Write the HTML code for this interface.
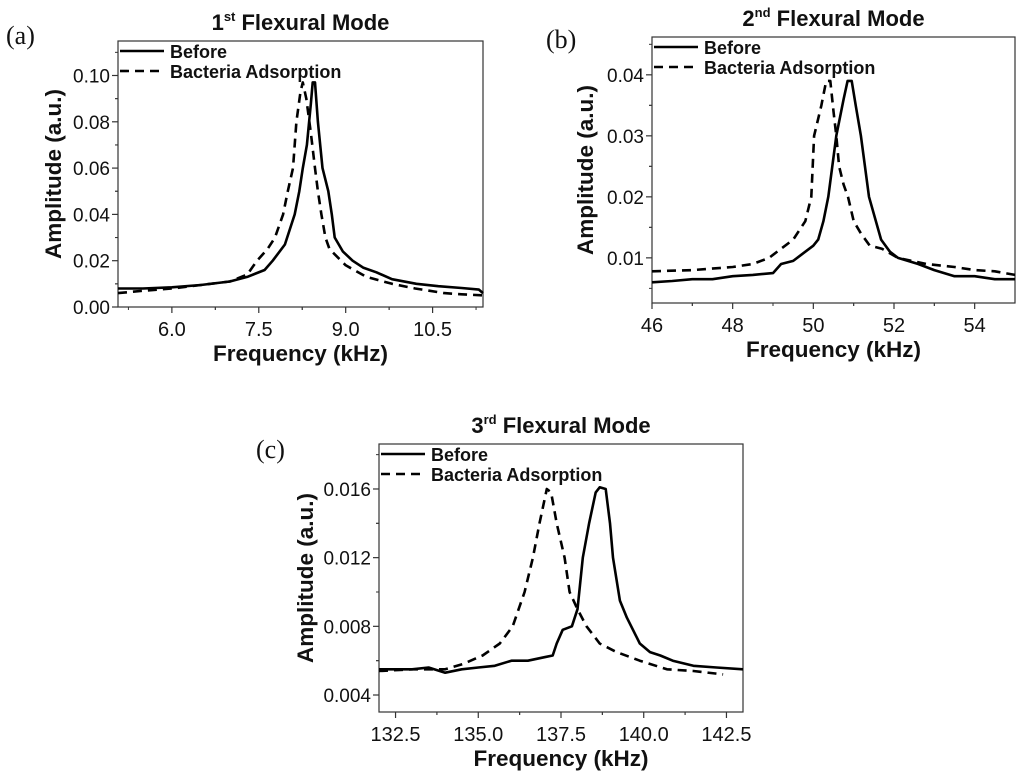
<!DOCTYPE html>
<html><head><meta charset="utf-8"><style>
body{margin:0;background:#fff;width:1024px;height:774px;overflow:hidden}
svg{display:block}
text{font-family:"Liberation Sans",Arial,sans-serif;fill:#111}
</style></head><body>
<svg id="fig" width="1024" height="774"></svg>
<script>
// Panel (a)
const aBeforeX=[5.07,5.5,6.0,6.5,7.0,7.3,7.6,7.74,7.95,8.12,8.2,8.26,8.33,8.4,8.43,8.47,8.52,8.6,8.7,8.76,8.81,8.95,9.12,9.3,9.53,9.8,10.22,10.6,11.0,11.3,11.37];
const aBeforeY=[0.008,0.008,0.0085,0.0095,0.011,0.013,0.016,0.02,0.027,0.04,0.05,0.06,0.07,0.088,0.097,0.097,0.08,0.06,0.05,0.04,0.03,0.024,0.02,0.017,0.015,0.012,0.01,0.009,0.0082,0.0075,0.006];
const aAfterX=[5.07,5.5,6.0,6.5,7.0,7.3,7.47,7.65,7.78,7.92,8.0,8.09,8.15,8.22,8.26,8.32,8.4,8.47,8.52,8.58,8.65,8.72,9.0,9.36,9.8,10.2,10.7,11.0,11.37];
const aAfterY=[0.006,0.007,0.008,0.0095,0.011,0.014,0.02,0.025,0.03,0.04,0.05,0.06,0.08,0.093,0.097,0.09,0.075,0.06,0.05,0.04,0.03,0.025,0.018,0.013,0.01,0.008,0.006,0.0055,0.005];
const aXTicks=[6.0,7.5,9.0,10.5];
const aXLabels=["6.0","7.5","9.0","10.5"];
const aYTicks=[0,0.02,0.04,0.06,0.08,0.10];
const aYLabels=["0.00","0.02","0.04","0.06","0.08","0.10"];
// Panel (b)
const bBeforeX=[46,46.5,47,47.5,48,48.5,49,49.2,49.5,49.7,50.0,50.12,50.25,50.37,50.57,50.75,50.85,50.95,51.05,51.18,51.38,51.68,51.9,52.1,52.6,53.0,53.5,54.0,54.5,55];
const bBeforeY=[0.006,0.0062,0.0065,0.0065,0.007,0.0072,0.0075,0.009,0.0095,0.0105,0.012,0.013,0.016,0.02,0.03,0.036,0.039,0.039,0.035,0.03,0.02,0.013,0.011,0.01,0.009,0.008,0.007,0.007,0.0065,0.0065];
const bAfterX=[46,47,48,48.5,48.9,49.2,49.5,49.8,49.95,50.02,50.2,50.32,50.42,50.5,50.57,50.64,50.75,50.86,51.0,51.18,51.4,51.7,52.1,52.8,53.5,54.0,54.5,55];
const bAfterY=[0.0078,0.008,0.0085,0.009,0.01,0.0115,0.013,0.016,0.02,0.03,0.035,0.039,0.039,0.034,0.03,0.025,0.022,0.02,0.016,0.014,0.012,0.0115,0.01,0.009,0.0085,0.008,0.0078,0.0072];
const bXTicks=[46,48,50,52,54];
const bXLabels=["46","48","50","52","54"];
const bYTicks=[0.01,0.02,0.03,0.04];
const bYLabels=["0.01","0.02","0.03","0.04"];
// Panel (c)
const cBeforeX=[132,133,133.5,134,134.5,135,135.5,136,136.5,137.0,137.25,137.37,137.55,137.83,138.0,138.16,138.35,138.55,138.67,138.85,138.98,139.07,139.28,139.49,139.88,140.19,140.5,140.88,141.5,142.2,143];
const cBeforeY=[0.0055,0.0055,0.0056,0.0053,0.0055,0.0056,0.0057,0.006,0.006,0.0062,0.0063,0.007,0.0078,0.008,0.009,0.012,0.014,0.0158,0.0161,0.016,0.014,0.012,0.0095,0.0085,0.007,0.0065,0.0063,0.006,0.0057,0.0056,0.0055];
const cAfterX=[132,133,134,134.53,135.13,135.65,136.04,136.4,136.65,136.85,137.07,137.2,137.37,137.61,137.76,138.0,138.27,138.67,139.18,139.88,140.7,141.5,142.4];
const cAfterY=[0.0054,0.0055,0.0055,0.0058,0.0063,0.007,0.008,0.01,0.012,0.014,0.016,0.0158,0.014,0.012,0.01,0.009,0.008,0.007,0.0065,0.006,0.0055,0.0054,0.0052];
const cXTicks=[132.5,135.0,137.5,140.0,142.5];
const cXLabels=["132.5","135.0","137.5","140.0","142.5"];
const cYTicks=[0.004,0.008,0.012,0.016];
const cYLabels=["0.004","0.008","0.012","0.016"];

const NS="http://www.w3.org/2000/svg";
const svg=document.getElementById('fig');
function mk(tag,attrs,parent){const e=document.createElementNS(NS,tag);for(const k in attrs)e.setAttribute(k,attrs[k]);(parent||svg).appendChild(e);return e;}

function panel(o){
  const g=mk('g',{});
  
  
  const sx=v=>o.L+(v-o.x0)/(o.x1-o.x0)*(o.R-o.L);
  const sy=v=>o.B-(v-o.y0)/(o.y1-o.y0)*(o.B-o.T);
  const box=mk('rect',{x:o.L,y:o.T,width:o.R-o.L,height:o.B-o.T,fill:'none',stroke:'#333','stroke-width':1.2},g);
  
  
  o.xt.forEach((v,i)=>{
    const x=sx(v);
    mk('line',{x1:x,x2:x,y1:o.B,y2:o.B+6,stroke:'#333','stroke-width':1.2},g);
    const t=mk('text',{x:x,y:o.B+29,'text-anchor':'middle','font-size':20},g);
    t.textContent=o.xl[i];
    
    
    const h=(o.xt[1]-o.xt[0])/2;
    [v-h,v+h].forEach(m=>{if(m>o.x0&&m<o.x1){const xm=sx(m);mk('line',{x1:xm,x2:xm,y1:o.B,y2:o.B+3,stroke:'#333','stroke-width':1},g);}});
  });
  o.yt.forEach((v,i)=>{
    const y=sy(v);
    mk('line',{x1:o.L-6,x2:o.L,y1:y,y2:y,stroke:'#333','stroke-width':1.2},g);
    const t=mk('text',{x:o.L-8,y:y+7,'text-anchor':'end','font-size':19},g);
    t.textContent=o.yl[i];
    
    
    const h=(o.yt[1]-o.yt[0])/2;
    [v-h,v+h].forEach(m=>{if(m>o.y0&&m<o.y1){const ym=sy(m);mk('line',{x1:o.L-3,x2:o.L,y1:ym,y2:ym,stroke:'#333','stroke-width':1},g);}});
  });
  function series(xs,ys,dash,name){
    const d=xs.map((x,i)=>(i?'L':'M')+sx(x).toFixed(1)+','+sy(ys[i]).toFixed(1)).join('');
    const p=mk('path',{d:d,fill:'none',stroke:'#000','stroke-width':2.6,'stroke-linejoin':'round'},g);
    if(dash)p.setAttribute('stroke-dasharray','9,6');
    
    
  }
  series(o.bx,o.by,false,'before-line');
  series(o.ax,o.ay,true,'bacteria-adsorption-line');
  const lg=mk('g',{},g);
  
  
  mk('line',{x1:o.L+2,x2:o.L+46,y1:o.T+10,y2:o.T+10,stroke:'#000','stroke-width':2.6},lg);
  mk('line',{x1:o.L+2,x2:o.L+46,y1:o.T+30,y2:o.T+30,stroke:'#000','stroke-width':2.6,'stroke-dasharray':'9,6'},lg);
  const l1=mk('text',{x:o.L+52,y:o.T+17,'font-size':18,'font-weight':'bold'},lg);l1.textContent='Before';
  
  
  const l2=mk('text',{x:o.L+52,y:o.T+37,'font-size':18,'font-weight':'bold'},lg);l2.textContent='Bacteria Adsorption';
  
  
  const tt=mk('text',{x:(o.L+o.R)/2,y:o.T-11,'text-anchor':'middle','font-size':22,'font-weight':'bold'},g);
  
  
  tt.innerHTML=o.num+'<tspan dy="-9" font-size="13">'+o.sup+'</tspan><tspan dy="9"> Flexural Mode</tspan>';
  const xa=mk('text',{x:(o.L+o.R)/2,y:o.B+54,'text-anchor':'middle','font-size':22.5,'font-weight':'bold'},g);
  xa.textContent='Frequency (kHz)';
  
  
  const cy=(o.T+o.B)/2;
  const ya=mk('text',{x:o.yax,y:cy,'text-anchor':'middle','font-size':22.5,'font-weight':'bold',transform:'rotate(-90 '+o.yax+' '+cy+')'},g);
  ya.textContent='Amplitude (a.u.)';
  
  
  const pl=mk('text',{x:o.plx,y:o.ply,'font-size':26,style:'font-family:"Liberation Serif",serif'},g);
  pl.textContent=o.lab;
  
  
}
panel({name:'panel-a',L:118,R:483,T:41,B:307,x0:5.07,x1:11.37,y0:0,y1:0.1149,xt:aXTicks,xl:aXLabels,yt:aYTicks,yl:aYLabels,bx:aBeforeX,by:aBeforeY,ax:aAfterX,ay:aAfterY,num:'1',sup:'st',yax:61,plx:6,ply:44,lab:'(a)'});
panel({name:'panel-b',L:652,R:1015,T:37,B:303,x0:46,x1:55,y0:0.0026,y1:0.0462,xt:bXTicks,xl:bXLabels,yt:bYTicks,yl:bYLabels,bx:bBeforeX,by:bBeforeY,ax:bAfterX,ay:bAfterY,num:'2',sup:'nd',yax:593,plx:546,ply:48,lab:'(b)'});
panel({name:'panel-c',L:379,R:743,T:444,B:712,x0:132,x1:143,y0:0.00301,y1:0.01862,xt:cXTicks,xl:cXLabels,yt:cYTicks,yl:cYLabels,bx:cBeforeX,by:cBeforeY,ax:cAfterX,ay:cAfterY,num:'3',sup:'rd',yax:313,plx:256,ply:458,lab:'(c)'});
</script>
</body></html>
